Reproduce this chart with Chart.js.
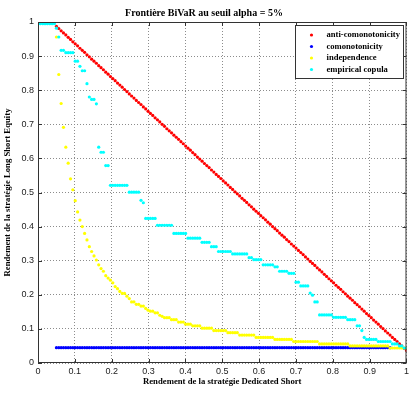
<!DOCTYPE html>
<html>
<head>
<meta charset="utf-8">
<script src="https://cdn.jsdelivr.net/npm/chart.js@4/dist/chart.umd.min.js"></script>
<style>
  html, body { margin: 0; padding: 0; background: #fff; }
  #c { display: block; }
</style>
</head>
<body>
<canvas id="c" width="412" height="395"></canvas>
<script>
// grille commune des rendements Dedicated Short (150 points de 0.05 à 1)
const xGrid = [
  0.0500, 0.0564, 0.0628, 0.0691, 0.0755, 0.0819, 0.0883, 0.0946, 0.1010, 0.1074,
  0.1138, 0.1201, 0.1265, 0.1329, 0.1393, 0.1456, 0.1520, 0.1584, 0.1648, 0.1711,
  0.1775, 0.1839, 0.1903, 0.1966, 0.2030, 0.2094, 0.2158, 0.2221, 0.2285, 0.2349,
  0.2413, 0.2477, 0.2540, 0.2604, 0.2668, 0.2732, 0.2795, 0.2859, 0.2923, 0.2987,
  0.3050, 0.3114, 0.3178, 0.3242, 0.3305, 0.3369, 0.3433, 0.3497, 0.3560, 0.3624,
  0.3688, 0.3752, 0.3815, 0.3879, 0.3943, 0.4007, 0.4070, 0.4134, 0.4198, 0.4262,
  0.4326, 0.4389, 0.4453, 0.4517, 0.4581, 0.4644, 0.4708, 0.4772, 0.4836, 0.4899,
  0.4963, 0.5027, 0.5091, 0.5154, 0.5218, 0.5282, 0.5346, 0.5409, 0.5473, 0.5537,
  0.5601, 0.5664, 0.5728, 0.5792, 0.5856, 0.5919, 0.5983, 0.6047, 0.6111, 0.6174,
  0.6238, 0.6302, 0.6366, 0.6430, 0.6493, 0.6557, 0.6621, 0.6685, 0.6748, 0.6812,
  0.6876, 0.6940, 0.7003, 0.7067, 0.7131, 0.7195, 0.7258, 0.7322, 0.7386, 0.7450,
  0.7513, 0.7577, 0.7641, 0.7705, 0.7768, 0.7832, 0.7896, 0.7960, 0.8023, 0.8087,
  0.8151, 0.8215, 0.8279, 0.8342, 0.8406, 0.8470, 0.8534, 0.8597, 0.8661, 0.8725,
  0.8789, 0.8852, 0.8916, 0.8980, 0.9044, 0.9107, 0.9171, 0.9235, 0.9299, 0.9362,
  0.9426, 0.9490, 0.9554, 0.9617, 0.9681, 0.9745, 0.9809, 0.9872, 0.9936, 1.0000
];
// la copule empirique commence avant 0.05
const cyanLeadX = [0.0000, 0.0064, 0.0128, 0.0191, 0.0255, 0.0319, 0.0383, 0.0446];

const antiY = [
  0.987, 0.981, 0.974, 0.968, 0.962, 0.955, 0.949, 0.942, 0.936, 0.930,
  0.923, 0.917, 0.911, 0.904, 0.898, 0.891, 0.885, 0.879, 0.872, 0.866,
  0.860, 0.853, 0.847, 0.840, 0.834, 0.828, 0.821, 0.815, 0.809, 0.802,
  0.796, 0.789, 0.783, 0.777, 0.770, 0.764, 0.758, 0.751, 0.745, 0.738,
  0.732, 0.726, 0.719, 0.713, 0.707, 0.700, 0.694, 0.687, 0.681, 0.675,
  0.668, 0.662, 0.656, 0.649, 0.643, 0.636, 0.630, 0.624, 0.617, 0.611,
  0.604, 0.598, 0.592, 0.585, 0.579, 0.573, 0.566, 0.560, 0.553, 0.547,
  0.541, 0.534, 0.528, 0.522, 0.515, 0.509, 0.502, 0.496, 0.490, 0.483,
  0.477, 0.471, 0.464, 0.458, 0.451, 0.445, 0.439, 0.432, 0.426, 0.420,
  0.413, 0.407, 0.400, 0.394, 0.388, 0.381, 0.375, 0.369, 0.362, 0.356,
  0.349, 0.343, 0.337, 0.330, 0.324, 0.318, 0.311, 0.305, 0.298, 0.292,
  0.286, 0.279, 0.273, 0.267, 0.260, 0.254, 0.247, 0.241, 0.235, 0.228,
  0.222, 0.216, 0.209, 0.203, 0.196, 0.190, 0.184, 0.177, 0.171, 0.165,
  0.158, 0.152, 0.145, 0.139, 0.133, 0.126, 0.120, 0.114, 0.107, 0.101,
  0.094, 0.088, 0.082, 0.075, 0.069, 0.063, 0.056, 0.050, 0.043, 0.037
];

// comonotonicité : palier plat, s'arrête vers 0.955
const comoY = [
  0.045, 0.045, 0.045, 0.045, 0.045, 0.045, 0.045, 0.045, 0.045, 0.045,
  0.045, 0.045, 0.045, 0.045, 0.045, 0.045, 0.045, 0.045, 0.045, 0.045,
  0.045, 0.045, 0.045, 0.045, 0.045, 0.045, 0.045, 0.045, 0.045, 0.045,
  0.045, 0.045, 0.045, 0.045, 0.045, 0.045, 0.045, 0.045, 0.045, 0.045,
  0.045, 0.045, 0.045, 0.045, 0.045, 0.045, 0.045, 0.045, 0.045, 0.045,
  0.045, 0.045, 0.045, 0.045, 0.045, 0.045, 0.045, 0.045, 0.045, 0.045,
  0.045, 0.045, 0.045, 0.045, 0.045, 0.045, 0.045, 0.045, 0.045, 0.045,
  0.045, 0.045, 0.045, 0.045, 0.045, 0.045, 0.045, 0.045, 0.045, 0.045,
  0.045, 0.045, 0.045, 0.045, 0.045, 0.045, 0.045, 0.045, 0.045, 0.045,
  0.045, 0.045, 0.045, 0.045, 0.045, 0.045, 0.045, 0.045, 0.045, 0.045,
  0.045, 0.045, 0.045, 0.045, 0.045, 0.045, 0.045, 0.045, 0.045, 0.045,
  0.045, 0.045, 0.045, 0.045, 0.045, 0.045, 0.045, 0.045, 0.045, 0.045,
  0.045, 0.045, 0.045, 0.045, 0.045, 0.045, 0.045, 0.045, 0.045, 0.045,
  0.045, 0.045, 0.045, 0.045, 0.045, 0.045, 0.045, 0.045, 0.045, 0.045,
  0.045, 0.045, 0.045
];

const indepY = [
  0.956, 0.846, 0.761, 0.691, 0.633, 0.586, 0.540, 0.508, 0.476, 0.443,
  0.419, 0.400, 0.380, 0.361, 0.341, 0.327, 0.314, 0.302, 0.288, 0.277,
  0.269, 0.256, 0.249, 0.243, 0.235, 0.224, 0.218, 0.210, 0.204, 0.204,
  0.196, 0.189, 0.179, 0.179, 0.172, 0.172, 0.167, 0.167, 0.160, 0.155,
  0.152, 0.152, 0.147, 0.147, 0.140, 0.137, 0.133, 0.133, 0.133, 0.127,
  0.127, 0.127, 0.120, 0.120, 0.120, 0.114, 0.114, 0.114, 0.109, 0.109,
  0.109, 0.109, 0.102, 0.102, 0.102, 0.102, 0.102, 0.095, 0.095, 0.095,
  0.095, 0.095, 0.095, 0.089, 0.089, 0.089, 0.089, 0.089, 0.082, 0.082,
  0.082, 0.082, 0.082, 0.082, 0.082, 0.075, 0.075, 0.075, 0.075, 0.075,
  0.075, 0.075, 0.075, 0.069, 0.069, 0.069, 0.069, 0.069, 0.069, 0.069,
  0.069, 0.063, 0.063, 0.063, 0.063, 0.063, 0.063, 0.063, 0.063, 0.063,
  0.063, 0.063, 0.056, 0.056, 0.056, 0.056, 0.056, 0.056, 0.056, 0.056,
  0.056, 0.056, 0.056, 0.056, 0.056, 0.050, 0.050, 0.050, 0.050, 0.050,
  0.050, 0.050, 0.050, 0.050, 0.050, 0.050, 0.050, 0.050, 0.050, 0.050,
  0.050, 0.050, 0.044, 0.044, 0.044, 0.044, 0.044, 0.044, 0.044, 0.044
];

// 8 points de tête (x < 0.05) puis la grille commune
const empY = [
  0.995, 0.995, 0.995, 0.995, 0.995, 0.995, 0.995, 0.995,
  0.982, 0.956, 0.917, 0.917, 0.910, 0.910, 0.910, 0.910, 0.885, 0.885,
  0.870, 0.857, 0.857, 0.819, 0.780, 0.773, 0.773, 0.760, 0.633, 0.618,
  0.618, 0.579, 0.579, 0.521, 0.521, 0.521, 0.521, 0.521, 0.521, 0.521,
  0.521, 0.501, 0.501, 0.501, 0.501, 0.501, 0.477, 0.470, 0.424, 0.424,
  0.424, 0.424, 0.424, 0.404, 0.404, 0.404, 0.404, 0.404, 0.404, 0.404,
  0.380, 0.380, 0.380, 0.380, 0.380, 0.380, 0.366, 0.366, 0.366, 0.366,
  0.366, 0.366, 0.354, 0.354, 0.354, 0.354, 0.341, 0.341, 0.341, 0.327,
  0.327, 0.327, 0.327, 0.327, 0.327, 0.320, 0.320, 0.320, 0.320, 0.320,
  0.320, 0.320, 0.309, 0.309, 0.303, 0.303, 0.303, 0.303, 0.288, 0.288,
  0.288, 0.288, 0.288, 0.282, 0.282, 0.269, 0.269, 0.269, 0.269, 0.263,
  0.263, 0.263, 0.237, 0.237, 0.226, 0.226, 0.226, 0.226, 0.205, 0.199,
  0.179, 0.179, 0.141, 0.141, 0.141, 0.141, 0.141, 0.141, 0.134, 0.134,
  0.134, 0.134, 0.134, 0.134, 0.127, 0.127, 0.127, 0.127, 0.109, 0.109,
  0.095, 0.075, 0.069, 0.069, 0.069, 0.069, 0.069, 0.063, 0.063, 0.063,
  0.063, 0.063, 0.063, 0.056, 0.056, 0.056, 0.050, 0.050, 0.044, 0.044
];

const labels = ["anti-comonotonicity", "comonotonicity", "independence", "empirical copula"];
const colors = ["#ff0000", "#0000ff", "#ffff00", "#00ffff"];
const xTicks = [0, 0.1, 0.2, 0.3, 0.4, 0.5, 0.6, 0.7, 0.8, 0.9, 1];

const SERIF = "'Liberation Serif', 'Times New Roman', serif";
const SANS = "'Liberation Sans', Arial, sans-serif";

function pts(xs, ys) { return ys.map((y, i) => ({ x: xs[i], y })); }

function dots(i, data, order) {
  return {
    label: labels[i], data, order,
    backgroundColor: colors[i], borderColor: colors[i],
    pointRadius: 1.6, pointBorderWidth: 0, pointHoverRadius: 0, showLine: false,
  };
}

// cadre fermé + petites graduations intérieures (style MATLAB)
const frame = {
  id: "frame",
  afterDatasetsDraw(chart) {
    const { ctx, chartArea: a, scales: { x, y } } = chart;
    ctx.save();
    ctx.strokeStyle = "#333"; ctx.lineWidth = 1;
    ctx.strokeRect(a.left + 0.5, a.top + 0.5, a.right - a.left - 1, a.bottom - a.top - 1);
    ctx.beginPath();
    xTicks.forEach((v) => {
      const p = Math.round(x.getPixelForValue(v)) + 0.5;
      ctx.moveTo(p, a.bottom); ctx.lineTo(p, a.bottom - 4);
      ctx.moveTo(p, a.top); ctx.lineTo(p, a.top + 4);
    });
    xTicks.forEach((v) => {
      const p = Math.round(y.getPixelForValue(v)) + 0.5;
      ctx.moveTo(a.left, p); ctx.lineTo(a.left + 4, p);
      ctx.moveTo(a.right, p); ctx.lineTo(a.right - 4, p);
    });
    ctx.stroke();
    ctx.restore();
  },
  afterDraw(chart) {
    const { ctx, chartArea: a } = chart;
    const w = 108, h = 53, bx = a.right - 3 - w, by = a.top + 3;
    ctx.save();
    ctx.fillStyle = "#fff";
    ctx.fillRect(bx, by, w, h);
    ctx.strokeStyle = "#333"; ctx.lineWidth = 1;
    ctx.strokeRect(Math.round(bx) + 0.5, Math.round(by) + 0.5, w, h);
    ctx.font = "bold 8.6px " + SERIF;
    ctx.textBaseline = "middle";
    labels.forEach((t, i) => {
      const ry = by + 10 + i * 11.5;
      ctx.fillStyle = colors[i];
      ctx.beginPath(); ctx.arc(bx + 16, ry, 1.6, 0, Math.PI * 2); ctx.fill();
      ctx.fillStyle = "#000";
      ctx.fillText(t, bx + 31, ry);
    });
    ctx.restore();
  },
};

const fmtTick = (v) => String(Number(v.toFixed(1)));

new Chart(document.getElementById("c").getContext("2d"), {
  type: "scatter",
  data: {
    datasets: [
      dots(0, pts(xGrid, antiY), 4),
      dots(1, pts(xGrid, comoY), 3),
      dots(2, pts(xGrid, indepY), 2),
      dots(3, pts(cyanLeadX.concat(xGrid), empY), 1),
    ],
  },
  options: {
    responsive: false, animation: false, events: [],
    layout: { padding: { left: 0, right: 4, top: 0, bottom: 0 } },
    plugins: {
      legend: { display: false },
      tooltip: { enabled: false },
      title: {
        display: true, text: "Frontière BiVaR au seuil alpha = 5%", color: "#000",
        font: { family: SERIF, size: 10, weight: "bold", lineHeight: 1.2 },
        padding: { top: 7, bottom: 3 },
      },
    },
    scales: {
      x: {
        type: "linear", min: 0, max: 1,
        afterFit: (s) => { s.height = 32; },
        afterBuildTicks: (s) => { s.ticks = xTicks.map((v) => ({ value: v })); },
        ticks: { color: "#222", padding: 3, font: { family: SANS, size: 9 }, callback: fmtTick, maxRotation: 0 },
        grid: { color: "#8c8c8c", lineWidth: 1, drawTicks: false },
        border: { display: false, dash: [1, 2] },
        title: {
          display: true, text: "Rendement de la stratégie Dedicated Short", color: "#000",
          font: { family: SERIF, size: 8.7, weight: "bold", lineHeight: 1.2 },
          padding: { top: 0, bottom: 8 },
        },
      },
      y: {
        type: "linear", min: 0, max: 1,
        afterFit: (s) => { s.width = 38; },
        afterBuildTicks: (s) => { s.ticks = xTicks.map((v) => ({ value: v })); },
        ticks: { color: "#222", padding: 4, font: { family: SANS, size: 9 }, callback: fmtTick },
        grid: { color: "#8c8c8c", lineWidth: 1, drawTicks: false },
        border: { display: false, dash: [1, 2] },
        title: {
          display: true, text: "Rendement de la stratégie Long Short Equity", color: "#000",
          font: { family: SERIF, size: 8.7, weight: "bold", lineHeight: 1.2 },
          padding: { top: 3, bottom: 0 },
        },
      },
    },
  },
  plugins: [frame],
});
</script>
</body>
</html>
